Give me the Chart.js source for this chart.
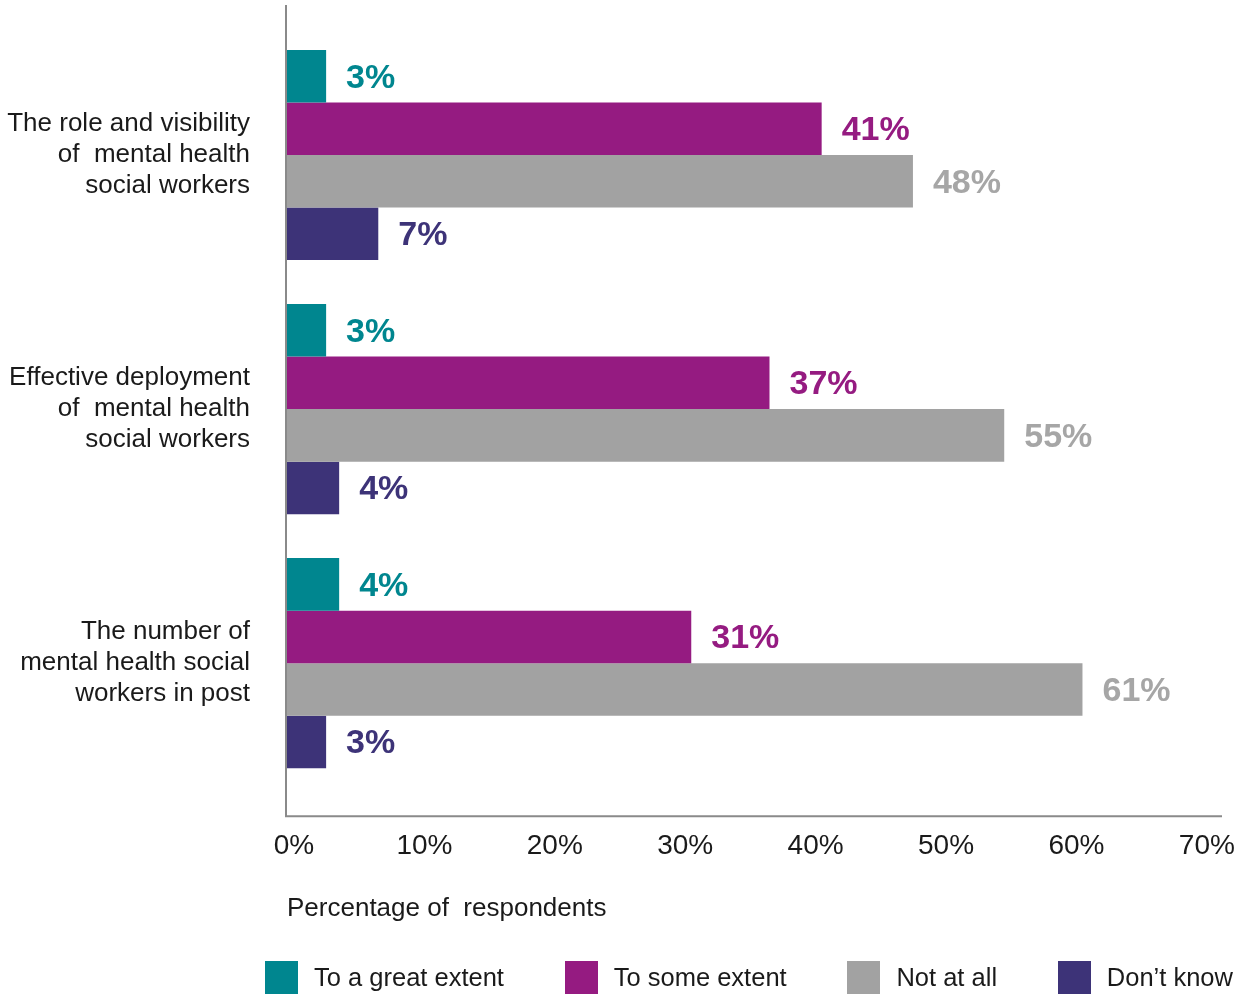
<!DOCTYPE html>
<html>
<head>
<meta charset="utf-8">
<script src="https://cdn.jsdelivr.net/npm/chart.js@4.4.0/dist/chart.umd.min.js"></script>
<style>
  html, body { margin: 0; padding: 0; background: #fff; }
  #wrap { position: relative; width: 1239px; height: 996px; }
  #legend {
    position: absolute; left: 265px; top: 961px; width: 968px;
    display: flex; justify-content: space-between;
    font: 25.5px "Liberation Sans", Arial, sans-serif; color: #1a1a1a;
  }
  #legend .item { display: flex; align-items: center; height: 33px; }
  #legend .swatch { width: 33px; height: 33px; margin-right: 16px; }
</style>
</head>
<body>
<div id="wrap">
  <canvas id="chart" width="1239" height="996"></canvas>
  <div id="legend"></div>
</div>
<script>
// Survey answers, percent of respondents per statement
const categories = [
  ['The role and visibility', 'of  mental health', 'social workers'],
  ['Effective deployment', 'of  mental health', 'social workers'],
  ['The number of', 'mental health social', 'workers in post']
];
const seriesNames = ['To a great extent', 'To some extent', 'Not at all', 'Don\u2019t know'];
const greatExtent = [3, 3, 4];
const someExtent = [41, 37, 31];
const notAtAll = [48, 55, 61];
const dontKnow = [7, 4, 3];
const xTicks = [0, 10, 20, 30, 40, 50, 60, 70];

const barColors = ['#00868f', '#951b81', '#a2a2a2', '#3d3378'];
const labelColors = ['#00868f', '#951b81', '#a6a6a6', '#3d3378'];

Chart.defaults.font.family = '"Liberation Sans", Arial, sans-serif';
Chart.defaults.color = '#1a1a1a';

// value text at the end of each bar
const valueLabels = {
  id: 'valueLabels',
  afterDatasetsDraw(chart) {
    const ctx = chart.ctx;
    ctx.save();
    ctx.font = 'bold 34px "Liberation Sans", Arial, sans-serif';
    ctx.textBaseline = 'middle';
    ctx.textAlign = 'left';
    chart.data.datasets.forEach((ds, i) => {
      chart.getDatasetMeta(i).data.forEach((bar, j) => {
        ctx.fillStyle = labelColors[i];
        ctx.fillText(ds.data[j] + '%', bar.x + 20, bar.y + 2);
      });
    });
    ctx.restore();
  }
};

// axis lines run a little past the plot area
const axisLines = {
  id: 'axisLines',
  beforeDatasetsDraw(chart) {
    const { ctx, chartArea } = chart;
    const baseY = chartArea.bottom + 26;
    ctx.save();
    ctx.strokeStyle = '#8a8a8a';
    ctx.lineWidth = 2;
    ctx.beginPath();
    ctx.moveTo(chartArea.left - 1, chartArea.top - 23);
    ctx.lineTo(chartArea.left - 1, baseY + 1);
    ctx.moveTo(chartArea.left - 2, baseY);
    ctx.lineTo(chartArea.right, baseY);
    ctx.stroke();
    ctx.restore();
  }
};

const seriesData = [greatExtent, someExtent, notAtAll, dontKnow];

const chart = new Chart(document.getElementById('chart'), {
  type: 'bar',
  data: {
    labels: categories,
    datasets: seriesNames.map((name, i) => ({
      label: name,
      data: seriesData[i],
      backgroundColor: barColors[i],
      borderWidth: 0,
      categoryPercentage: 0.827,
      barPercentage: 1.0
    }))
  },
  options: {
    indexAxis: 'y',
    responsive: false,
    animation: false,
    devicePixelRatio: 1,
    layout: { padding: { top: 28, right: 17, bottom: 72, left: 0 } },
    plugins: {
      legend: { display: false },
      tooltip: { enabled: false }
    },
    scales: {
      x: {
        min: 0,
        max: 71.7,
        grid: { display: false, drawTicks: false },
        border: { display: false },
        afterBuildTicks: (scale) => { scale.ticks = xTicks.map(v => ({ value: v })); },
        afterFit: (scale) => { scale.paddingLeft = 0; scale.paddingRight = 0; },
        ticks: {
          padding: 39,
          labelOffset: 7,
          font: { size: 28 },
          callback: (v) => v + '%'
        },
        title: {
          display: true,
          text: 'Percentage of  respondents',
          align: 'start',
          font: { size: 26 },
          padding: { top: -9, bottom: 0 }
        }
      },
      y: {
        grid: { display: false, drawTicks: false },
        border: { display: false },
        afterFit: (scale) => { scale.width = 287; scale.paddingTop = 0; scale.paddingBottom = 0; },
        ticks: {
          padding: 37,
          font: { size: 26, lineHeight: 1.19 }
        }
      }
    }
  },
  plugins: [axisLines, valueLabels]
});

// html legend built from the datasets
const legendEl = document.getElementById('legend');
chart.data.datasets.forEach((ds) => {
  const item = document.createElement('div');
  item.className = 'item';
  const sw = document.createElement('span');
  sw.className = 'swatch';
  sw.style.background = ds.backgroundColor;
  const txt = document.createElement('span');
  txt.textContent = ds.label;
  item.appendChild(sw);
  item.appendChild(txt);
  legendEl.appendChild(item);
});
</script>
</body>
</html>
